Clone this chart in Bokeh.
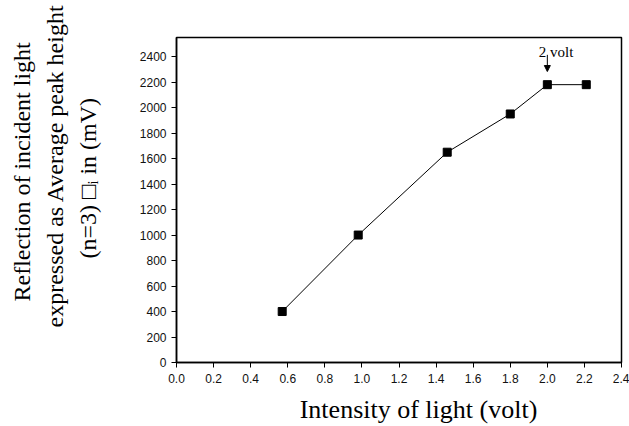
from bokeh.plotting import figure
from bokeh.models import Range1d, FixedTicker, Label, Arrow, NormalHead, NumeralTickFormatter, Title
from bokeh.embed import file_html
from bokeh.resources import INLINE

# Data
intensity_volt = [0.57, 0.98, 1.46, 1.80, 2.00, 2.21]
peak_height_mv = [400, 1000, 1650, 1950, 2180, 2180]

x_ticks = [0.0, 0.2, 0.4, 0.6, 0.8, 1.0, 1.2, 1.4, 1.6, 1.8, 2.0, 2.2, 2.4]
y_ticks = [0, 200, 400, 600, 800, 1000, 1200, 1400, 1600, 1800, 2000, 2200, 2400]

x_label_text = "Intensity of light (volt)"
y_label_lines = ["Reflection of incident light",
                 "expressed as Average peak height",
                 "(n=3) \u25a1\u1d62 in (mV)"]

annot_text = "2 volt"
annot_text_pos = [2.047, 2437]
annot_arrow_x = 2.0
annot_arrow_y = [2414, 2283]

SERIF = "Liberation Serif"
SANS = "Liberation Sans"

p = figure(width=629, height=426, output_backend="svg", toolbar_location=None,
           x_range=Range1d(0, 2.4), y_range=Range1d(0, 2550),
           min_border_left=176, min_border_right=8, min_border_top=37,
           min_border_bottom=63)

p.background_fill_color = "white"
p.border_fill_color = "white"
p.outline_line_color = "black"
p.outline_line_width = 1.5
p.xgrid.visible = False
p.ygrid.visible = False

for ax in (p.xaxis[0], p.yaxis[0]):
    ax.axis_line_color = "black"
    ax.axis_line_width = 1.5
    ax.major_tick_line_color = "black"
    ax.major_tick_line_width = 1
    ax.major_tick_out = 5
    ax.major_tick_in = 0
    ax.minor_tick_line_color = None
    ax.major_label_text_font = SANS
    ax.major_label_text_font_size = "12px"
    ax.major_label_text_color = "#111111"

p.xaxis.ticker = FixedTicker(ticks=x_ticks)
p.yaxis.ticker = FixedTicker(ticks=y_ticks)
p.xaxis.formatter = NumeralTickFormatter(format="0.0")
p.xaxis.major_label_standoff = 6
p.yaxis.major_label_standoff = 5

# x axis title (leading en spaces shift it right of the frame centre, as in the reference)
p.xaxis.axis_label = "\u2002\u2002\u2002" + x_label_text
p.xaxis.axis_label_text_font = SERIF
p.xaxis.axis_label_text_font_size = "26px"
p.xaxis.axis_label_text_font_style = "normal"
p.xaxis.axis_label_text_color = "black"
p.xaxis.axis_label_standoff = 9

p.line(intensity_volt, peak_height_mv, line_color="black", line_width=1)
p.scatter(intensity_volt, peak_height_mv, marker="square", size=8,
          fill_color="black", line_color="black")

# Annotation "2 volt" with arrow
p.add_layout(Label(x=annot_text_pos[0], y=annot_text_pos[1], text=annot_text,
                   text_font=SERIF, text_font_size="15px", text_align="center",
                   text_baseline="alphabetic", text_color="black"))
p.add_layout(Arrow(end=NormalHead(size=6, fill_color="black", line_color="black"),
                   x_start=annot_arrow_x, y_start=annot_arrow_y[0],
                   x_end=annot_arrow_x, y_end=annot_arrow_y[1],
                   line_color="black", line_width=1))

# y axis title: three rotated lines as left-side titles (nearest to frame first)
p.add_layout(Title(text=" ", text_font_size="1px", standoff=29), "left")
offsets = {2: 104, 1: 35, 0: 61}
for i in (2, 1, 0):
    p.add_layout(Title(text=y_label_lines[i], text_font=SERIF, text_font_size="24px",
                       text_font_style="normal", text_color="black",
                       align="left", offset=offsets[i], vertical_align="middle",
                       standoff=5), "left")

open("out.html", "w").write(file_html(p, INLINE))
